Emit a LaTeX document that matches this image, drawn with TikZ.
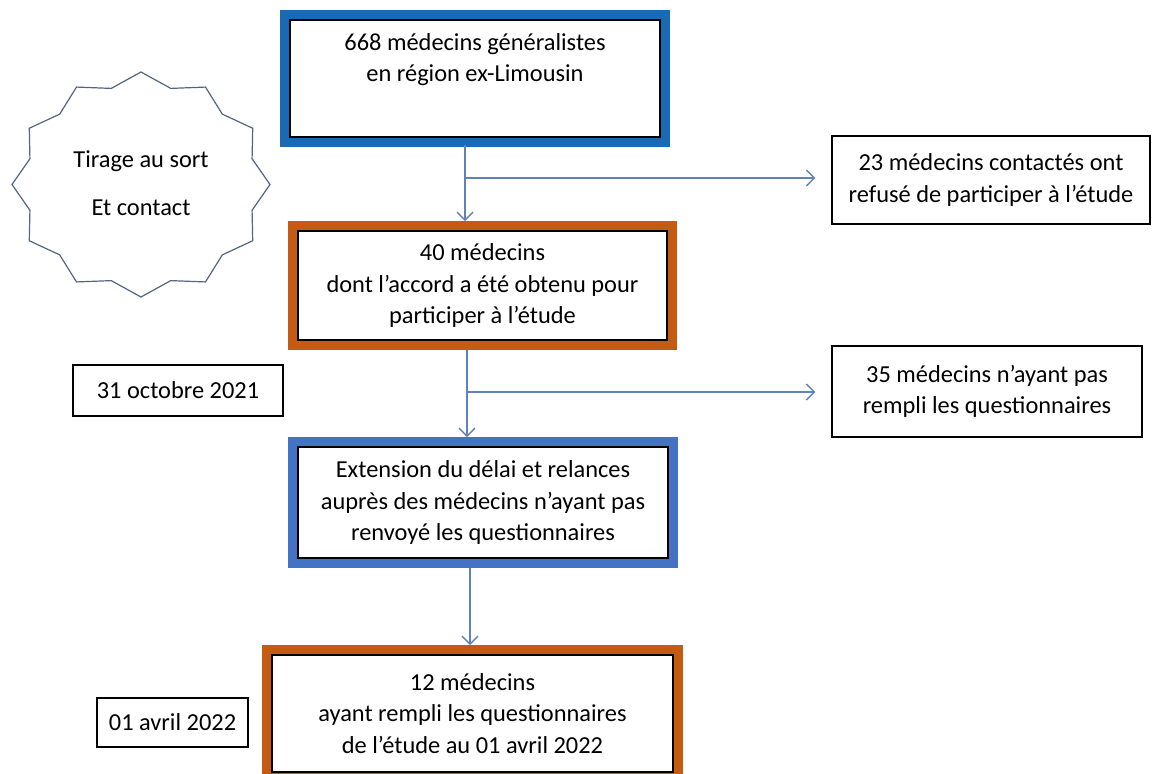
\documentclass[tikz,border=0pt]{standalone}
\usepackage{fontspec}
\setmainfont{Carlito}
\usepackage{tikz}
\usetikzlibrary{calc,arrows.meta}

\definecolor{boxblue}{RGB}{25,105,180}
\definecolor{boxblueb}{RGB}{68,114,196}
\definecolor{boxorange}{RGB}{197,90,17}
\definecolor{flowblue}{RGB}{95,130,185}
\definecolor{stargray}{RGB}{85,100,130}

\begin{document}
\begin{tikzpicture}[x=0.5pt,y=-0.5pt,
    font=\fontsize{12.2}{15.8}\selectfont,
    mainbox/.style={draw=black,line width=0.6pt,fill=white,align=center,inner sep=0pt,
      outer sep=5pt,preaction={draw=#1,line width=10pt}},
    sidebox/.style={draw=black,line width=0.7pt,fill=white,align=center,inner sep=0pt},
    flow/.style={draw=flowblue,line width=0.7pt,-{Straight Barb[length=4pt,width=8pt]}}]
  \useasboundingbox (0,0) rectangle (1152,773);

  % star
  \begin{scope}[shift={(141,184.5)}]
    \draw[stargray,line width=0.6pt,fill=white] (90:129 and 112.5)
      \foreach \k in {1,...,12} {-- ({90+30*\k-15}:115 and 99.5) -- ({90+30*\k}:129 and 112.5)} -- cycle;
  \end{scope}
  \node[align=center] (tirage) at (141,183) {Tirage au sort\\[8.5pt]Et contact};

  % main column
  \node[mainbox=boxblue,outer sep=4pt,preaction={draw=boxblue,line width=8pt},
    minimum width=185pt,minimum height=58.5pt] (n668) at (475,78.5)
    {668 médecins généralistes\\en région ex-Limousin\\[5pt]~};
  \node[mainbox=boxorange,minimum width=184.5pt,minimum height=54.5pt] (n40) at (482.5,285.5)
    {40 médecins\\dont l’accord a été obtenu pour\\participer à l’étude};
  \node[mainbox=boxblueb,minimum width=185pt,minimum height=55.5pt] (nrelance) at (483,502.5)
    {Extension du délai et relances\\auprès des médecins n’ayant pas\\renvoyé les questionnaires};
  \node[mainbox=boxorange,minimum width=200.5pt,minimum height=58.5pt] (n12) at (472.5,713.5)
    {12 médecins\\ayant rempli les questionnaires\\de l’étude au 01 avril 2022};

  % side boxes
  \node[sidebox,minimum width=159pt,minimum height=44pt] (n23) at (991,180)
    {23 médecins contactés ont\\refusé de participer à l’étude};
  \node[sidebox,minimum width=155pt,minimum height=45.5pt] (n35) at (987,391.5)
    {35 médecins n’ayant pas\\rempli les questionnaires};
  \node[sidebox,minimum width=105pt,minimum height=25.5pt] (noct) at (178,390.5) {31 octobre 2021};
  \node[sidebox,minimum width=75.5pt,minimum height=24.5pt] (navr) at (172.5,722.5) {01 avril 2022};

  % connectors
  \coordinate (b1) at (465,178);
  \coordinate (b2) at (467,392);
  \coordinate (b3) at (470,600);
  \draw[flow] (n668.south -| b1) -- (n40.north -| b1);
  \draw[flow,shorten >=8pt] (b1) -- (b1 -| n23.west);
  \draw[flow] (n40.south -| b2) -- (nrelance.north -| b2);
  \draw[flow,shorten >=8pt] (b2) -- (b2 -| n35.west);
  \draw[flow] (nrelance.south -| b3) -- (n12.north -| b3);
\end{tikzpicture}
\end{document}
